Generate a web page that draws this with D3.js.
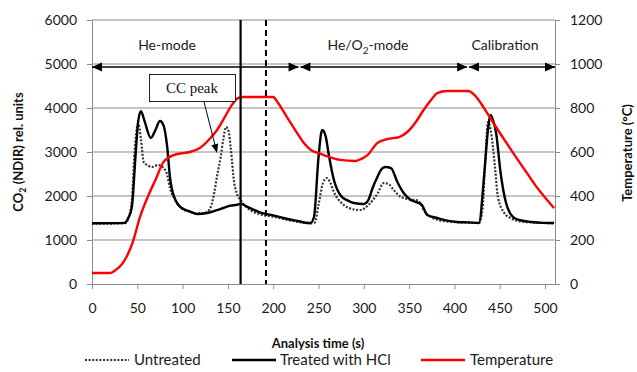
<!DOCTYPE html>
<html><head><meta charset="utf-8">
<script src="https://cdn.jsdelivr.net/npm/d3@7"></script>
<style>body{margin:0;background:#fff}svg{display:block}text{font-family:Lato,"Open Sans",sans-serif}</style>
</head><body><svg id="c" width="637" height="372"></svg>
<script>
const tempT = [0,20,25,34,45,53,62,70,79,90,100,108,119,130,138,146,153,161,167,200,205,215,225,235,242,250,256,274,291,298,304,315,326,339,348,358,366,374,381,392,415,422,429,438,448,458,470,480,490,500,510];
const tempV = [50,50,60,95,190,305,400,473,555,586,595,600,618,660,700,755,805,845,850,850,825,760,695,635,608,595,586,564,559,570,586,641,659,668,691,740,791,835,868,877,877,860,823,765,700,638,564,505,445,393,345];
const treatT = [0,36,40,44,48,51,54,58,65,70,75,79,83,86,92,99,108,116,127,138,145,153,160,164,171,186,200,211,225,241,245,250,254,258,261,267,274,282,289,300,305,310,315,320,324,330,337,344,352,358,364,370,381,392,403,415,427,433,437,440,443,446,451,457,466,475,485,497,510];
const treatV = [1380,1390,1500,1750,2900,3700,3930,3700,3320,3500,3705,3600,3114,2432,1909,1727,1650,1590,1614,1680,1727,1780,1800,1820,1760,1620,1560,1500,1440,1386,1523,2886,3500,3350,2977,2364,2023,1900,1840,1818,1909,2200,2432,2620,2659,2636,2318,2068,1909,1860,1800,1568,1500,1440,1409,1400,1386,2523,3500,3840,3700,3432,2523,1840,1500,1440,1409,1390,1386];
const untrT = [0,36,40,44,47,51,54,57,62,66,73,79,83,86,92,99,108,115,125,130,134,138,142,145,148,151,153,157,160,164,171,186,200,211,225,241,246,250,255,259,263,267,278,288,296,305,315,322,328,333,341,344,350,357,362,366,374,381,392,403,415,427,431,434,437,440,442,445,448,455,462,470,485,497,510];
const untrV = [1370,1380,1480,1900,3000,3650,3300,2773,2690,2659,2705,2636,2480,2182,1909,1720,1640,1600,1620,1700,1977,2450,2886,3300,3568,3450,3114,2295,2050,1909,1740,1580,1530,1480,1420,1380,1400,1800,2300,2409,2300,2091,1795,1700,1682,1795,2050,2295,2260,2136,1977,1955,1920,1909,1850,1682,1523,1460,1420,1405,1395,1386,1700,2800,3682,3500,3205,2600,1977,1614,1500,1432,1400,1390,1380];
const xTicks = [0,50,100,150,200,250,300,350,400,450,500];
const yTicks = [0,1000,2000,3000,4000,5000,6000];
const y2Ticks = [0,200,400,600,800,1000,1200];
const modeLabels = ["He-mode","He/O₂-mode","Calibration"];
const modeStart = [0,230,416];
const modeEnd = [228,414,511];
const modeLevel = 4930;
const solidLineT = 164;
const dashedLineT = 192;
const seriesNames = ["Untreated","Treated with HCl","Temperature"];

const svg = d3.select("#c");
const L=92,R=555,T=20,B=284;
const x = d3.scaleLinear().domain([0,511]).range([L,R]);
const y = d3.scaleLinear().domain([0,6000]).range([B,T]);
const y2 = d3.scaleLinear().domain([0,1200]).range([B,T]);
const grey="#8c8c8c";

svg.append("g").selectAll("line").data(yTicks.slice(1)).join("line")
  .attr("x1",L).attr("x2",R).attr("y1",d=>y(d)).attr("y2",d=>y(d))
  .attr("stroke",grey).attr("stroke-width",1);

function styleAxis(g){g.select(".domain").attr("stroke",grey);g.selectAll(".tick line").attr("stroke",grey);
  g.selectAll("text").attr("fill","#1a1a1a").style("font-size","14px").style("font-family","Lato,sans-serif");}
svg.append("g").attr("transform",`translate(0,${B})`)
  .call(d3.axisBottom(x).tickValues(xTicks).tickSize(5).tickPadding(14).tickSizeOuter(0)).call(styleAxis);
svg.append("g").attr("transform",`translate(${L},0)`)
  .call(d3.axisLeft(y).tickValues(yTicks).tickSize(5).tickPadding(10).tickFormat(d3.format("d")).tickSizeOuter(0)).call(styleAxis);
svg.append("g").attr("transform",`translate(${R},0)`)
  .call(d3.axisRight(y2).tickValues(y2Ticks).tickSize(5).tickPadding(10).tickFormat(d3.format("d")).tickSizeOuter(0)).call(styleAxis);

const line=(ts,vs,ys)=>d3.line().x((d,i)=>x(ts[i])).y((d,i)=>ys(vs[i])).curve(d3.curveMonotoneX)(vs);
svg.append("path").attr("d",line(untrT,untrV,y)).attr("fill","none").attr("stroke","#333").attr("stroke-width",2.2).attr("stroke-dasharray","2,1.6");
svg.append("path").attr("d",line(treatT,treatV,y)).attr("fill","none").attr("stroke","#000").attr("stroke-width",2.4);
svg.append("path").attr("d",line(tempT,tempV,y2)).attr("fill","none").attr("stroke","#ff0000").attr("stroke-width",2.4);

svg.append("line").attr("x1",x(solidLineT)).attr("x2",x(solidLineT)).attr("y1",T).attr("y2",B).attr("stroke","#000").attr("stroke-width",2.2);
svg.append("line").attr("x1",x(dashedLineT)).attr("x2",x(dashedLineT)).attr("y1",T).attr("y2",B).attr("stroke","#000").attr("stroke-width",2).attr("stroke-dasharray","6,4");

function head(px,py,dir){return `M${px},${py}L${px-dir*10},${py-4.5}L${px-dir*10},${py+4.5}Z`;}
const ay=y(modeLevel);
modeLabels.forEach((lab,i)=>{
  const x1=x(modeStart[i]),x2=x(modeEnd[i]);
  svg.append("line").attr("x1",x1).attr("x2",x2).attr("y1",ay).attr("y2",ay).attr("stroke","#000").attr("stroke-width",1.5);
  svg.append("path").attr("d",head(x1,ay,-1)).attr("fill","#000");
  svg.append("path").attr("d",head(x2,ay,1)).attr("fill","#000");
});
const labX=[167,368,505];
modeLabels.forEach((lab,i)=>{
  const t=svg.append("text").attr("x",labX[i]).attr("y",50).attr("text-anchor","middle").style("font-size","14px").attr("fill","#1a1a1a");
  if(lab.includes("₂")){
    t.append("tspan").text("He/O");
    t.append("tspan").text("2").attr("dy",4).style("font-size","10px");
    t.append("tspan").text("-mode").attr("dy",-4);
  } else t.text(lab);
});

svg.append("rect").attr("x",149.5).attr("y",74.5).attr("width",86).attr("height",27).attr("fill","#fff").attr("stroke","#222").attr("stroke-width",1);
svg.append("text").attr("x",192).attr("y",93).attr("text-anchor","middle").style("font-family","'Liberation Serif',serif").style("font-size","15px").attr("fill","#111").text("CC peak");
const ax1=204,ay1=102,ax2=217,ay2=153;
svg.append("line").attr("x1",ax1).attr("y1",ay1).attr("x2",ax2-1.2).attr("y2",ay2-5).attr("stroke","#000").attr("stroke-width",1);
{const ang=Math.atan2(ay2-ay1,ax2-ax1);const l=9,w=3.5;
 const bx=ax2-l*Math.cos(ang),by=ay2-l*Math.sin(ang);
 svg.append("path").attr("d",`M${ax2},${ay2}L${bx-w*Math.sin(ang)},${by+w*Math.cos(ang)}L${bx+w*Math.sin(ang)},${by-w*Math.cos(ang)}Z`).attr("fill","#000");}

const lt=svg.append("text").attr("transform","translate(23,152) rotate(-90)").attr("text-anchor","middle").style("font-size","13px").style("font-weight","bold").attr("fill","#111");
lt.append("tspan").text("CO");lt.append("tspan").text("2").attr("dy",3).style("font-size","9px");lt.append("tspan").text(" (NDIR) rel. units").attr("dy",-3);
svg.append("text").attr("transform","translate(632,153) rotate(-90)").attr("text-anchor","middle").style("font-size","13px").style("font-weight","bold").attr("fill","#111").text("Temperature (°C)");
svg.append("text").attr("x",318).attr("y",348).attr("text-anchor","middle").style("font-size","13px").style("font-weight","bold").attr("fill","#111").text("Analysis time (s)");

const legX=[85,232,421], legTX=[134,280,470];
const lgY=365;
svg.append("line").attr("x1",legX[0]).attr("x2",legX[0]+44).attr("y1",lgY-5).attr("y2",lgY-5).attr("stroke","#333").attr("stroke-width",2.2).attr("stroke-dasharray","2,1.6");
svg.append("line").attr("x1",legX[1]).attr("x2",legX[1]+44).attr("y1",lgY-5).attr("y2",lgY-5).attr("stroke","#000").attr("stroke-width",2.4);
svg.append("line").attr("x1",legX[2]).attr("x2",legX[2]+44).attr("y1",lgY-5).attr("y2",lgY-5).attr("stroke","#ff0000").attr("stroke-width",2.4);
seriesNames.forEach((n,i)=>svg.append("text").attr("x",legTX[i]).attr("y",lgY).style("font-size","15px").attr("fill","#1a1a1a").text(n));
</script></body></html>
